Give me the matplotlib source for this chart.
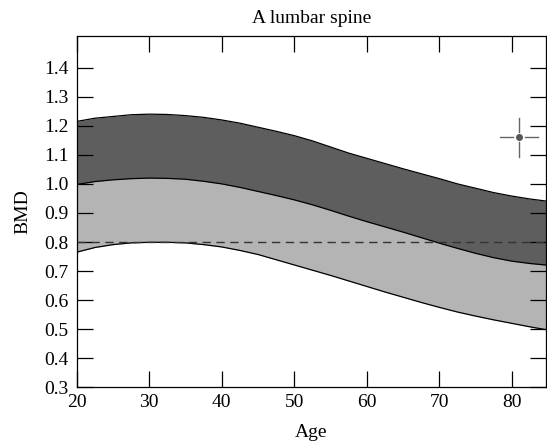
import numpy as np
import matplotlib
matplotlib.use('Agg')
import matplotlib.pyplot as plt

# Daten (alle 2.5 Jahre)
age = np.array([20, 22.5, 25, 27.5, 30, 32.5, 35, 37.5, 40, 42.5, 45, 47.5, 50, 52.5,
                55, 57.5, 60, 62.5, 65, 67.5, 70, 72.5, 75, 77.5, 80, 82.5, 85])
bmd_upper = np.array([1.215, 1.226, 1.232, 1.238, 1.240, 1.239, 1.235, 1.229, 1.220,
                      1.209, 1.195, 1.181, 1.166, 1.148, 1.127, 1.106, 1.088, 1.070,
                      1.052, 1.035, 1.018, 1.000, 0.985, 0.970, 0.958, 0.948, 0.940])
bmd_mid = np.array([0.998, 1.008, 1.014, 1.018, 1.020, 1.019, 1.016, 1.009, 1.000,
                    0.988, 0.974, 0.960, 0.945, 0.928, 0.909, 0.889, 0.870, 0.852,
                    0.834, 0.815, 0.796, 0.778, 0.761, 0.746, 0.734, 0.726, 0.720])
bmd_lower = np.array([0.765, 0.781, 0.791, 0.797, 0.799, 0.799, 0.797, 0.791, 0.783,
                      0.771, 0.757, 0.739, 0.721, 0.703, 0.685, 0.666, 0.647, 0.628,
                      0.610, 0.592, 0.575, 0.559, 0.545, 0.532, 0.520, 0.508, 0.497])
threshold = 0.8
marker_age, marker_bmd = 81.0, 1.16

xticks = [20, 30, 40, 50, 60, 70, 80]
yticks = [0.3, 0.4, 0.5, 0.6, 0.7, 0.8, 0.9, 1.0, 1.1, 1.2, 1.3, 1.4]

# Plot-Einstellungen
fsize = 14
plt.rcParams['font.family'] = ['Liberation Serif', 'DejaVu Serif']

fig = plt.figure(figsize=(5.47, 4.48), dpi=100)
ax = fig.add_axes([0.1402, 0.1355, 0.858, 0.7848])

ax.fill_between(age, bmd_lower, bmd_mid, color="#b4b4b4", lw=0, zorder=1)
ax.fill_between(age, bmd_mid, bmd_upper, color="#5e5e5e", lw=0, zorder=1)
for curve in (bmd_lower, bmd_mid, bmd_upper):
    ax.plot(age, curve, color="black", lw=0.9, zorder=2)
ax.axhline(threshold, color="#333333", lw=1.0, ls=(0, (6, 4)), zorder=3)

# Fadenkreuz
c = "#666666"
dx_in, dx_out = 0.83, 2.66
dy_in, dy_out = 0.017, 0.067
ax.plot([marker_age - dx_out, marker_age - dx_in], [marker_bmd] * 2, color=c, lw=1.0)
ax.plot([marker_age + dx_in, marker_age + dx_out], [marker_bmd] * 2, color=c, lw=1.0)
ax.plot([marker_age] * 2, [marker_bmd + dy_in, marker_bmd + dy_out], color=c, lw=1.0)
ax.plot([marker_age] * 2, [marker_bmd - dy_out, marker_bmd - dy_in], color=c, lw=1.0)
ax.plot(marker_age, marker_bmd, "o", color="#555555", ms=4)

ax.set_xlim(20, 84.7)
ax.set_ylim(0.3, 1.51)
ax.set_xticks(xticks)
ax.set_yticks(yticks)
ax.set_yticklabels(["%.1f" % v for v in yticks])
ax.tick_params(axis='both', direction='in', length=11.5, width=0.9,
               top=True, right=True, labelsize=fsize)
ax.tick_params(axis='x', pad=5)
ax.tick_params(axis='y', pad=6)
for s in ax.spines.values():
    s.set_linewidth(0.9)

ax.set_title("A lumbar spine", fontsize=fsize, pad=9)
ax.set_xlabel("Age", fontsize=fsize, labelpad=9)
ax.set_ylabel("BMD", fontsize=fsize, labelpad=9)

fig.savefig("out.png", dpi=100)
